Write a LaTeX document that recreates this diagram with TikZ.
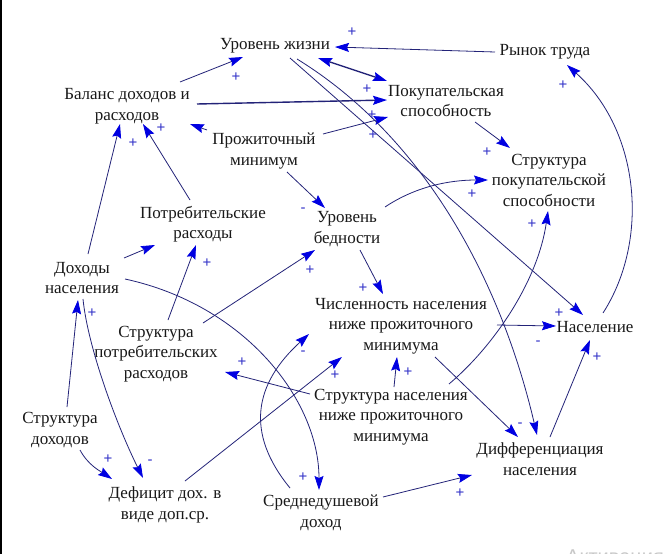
\documentclass[tikz,border=0pt]{standalone}
\usepackage{fontspec}
\setmainfont{Liberation Serif}
\newfontfamily\lblfont{Liberation Serif}
\newfontfamily\signfont{Liberation Sans}
\usetikzlibrary{arrows.meta,calc}
\definecolor{linec}{RGB}{35,35,120}
\definecolor{tipc}{RGB}{0,0,225}
\definecolor{signc}{RGB}{50,50,200}
\definecolor{wmc}{RGB}{200,200,200}
\begin{document}
\begin{tikzpicture}[x=1pt,y=-1pt,
  lbl/.style={align=center,inner sep=0pt,font=\lblfont\fontsize{17}{20.5}\selectfont,text={rgb,255:red,25;green,25;blue,25}},
  conn/.style={draw=linec,line width=0.8pt,-{Stealth[length=14pt,width=9pt,inset=2pt,color=tipc]}},
  connb/.style={draw=linec,line width=1.4pt,-{Stealth[length=14pt,width=9pt,inset=2pt,color=tipc]}},
  conn2/.style={draw=linec,line width=1.4pt,{Stealth[length=14pt,width=9pt,inset=2pt,color=tipc]}-{Stealth[length=14pt,width=9pt,inset=2pt,color=tipc]}},
  sg/.style={text=signc,font=\signfont\fontsize{15}{15}\selectfont,inner sep=0pt}]
\useasboundingbox (0,0) rectangle (665,554);
\fill[white] (0,0) rectangle (665,554);
\draw[black,line width=2pt] (1,0) -- (1,554);

% nodes
\node[lbl] (lev) at (275,46) {Уровень жизни};
\node[lbl] (rt) at (545,52) {Рынок труда};
\node[lbl] (bal) at (127,106) {Баланс доходов и\\расходов};
\node[lbl] (pok) at (446,101) {Покупательская\\способность};
\node[lbl] (pm) at (264,151) {Прожиточный\\минимум};
\node[lbl] (spk) at (549,180) {Структура\\покупательской\\способности};
\node[lbl] (potr) at (203,224) {Потребительские\\расходы};
\node[lbl] (ub) at (347,229) {Уровень\\бедности};
\node[lbl] (dn) at (82,278) {Доходы\\населения};
\node[lbl] (chn) at (401,326) {Численность населения\\ниже прожиточного\\минимума};
\node[lbl] (nas) at (595,327) {Население};
\node[lbl] (spr) at (156,354) {Структура\\потребительских\\расходов};
\node[lbl] (sn) at (391,417) {Структура населения\\ниже прожиточного\\минимума};
\node[lbl] (sd) at (60,430) {Структура\\доходов};
\node[lbl] (def) at (165,505) {Дефицит дох. в\\виде доп.ср.};
\node[lbl] (sdd) at (321,513) {Среднедушевой\\доход};
\node[lbl] (dif) at (540,459) {Дифференциация\\населения};

% straight connectors
\draw[conn] ($(bal)+(53,-24)$) -- ($(lev)+(-32,11)$);
\draw[conn] ($(rt)+(-50,0)$) -- ($(lev)+(60,1)$);
\draw[conn2] ($(lev)+(43,12)$) -- ($(pok)+(-59,-20)$);
\draw[connb] ($(bal)+(70,-2)$) -- ($(pok)+(-59,-1)$);
\draw[conn] ($(pm)+(59,-17)$) -- ($(pok)+(-58,16)$);
\draw[conn] ($(pm)+(-57,-21)$) -- ($(bal)+(63,18)$);
\draw[conn] ($(potr)+(-13,-24)$) -- ($(bal)+(16,18)$);
\draw[conn] ($(dn)+(6,-24)$) -- ($(bal)+(-7,18)$);
\draw[conn] ($(dn)+(42,-20)$) -- ($(potr)+(-48,21)$);
\draw[conn] ($(spr)+(12,-34)$) -- ($(potr)+(-7,21)$);
\draw[conn] ($(spr)+(47,-31)$) -- ($(ub)+(-32,21)$);
\draw[conn] ($(pm)+(23,21)$) -- ($(ub)+(-22,-21)$);
\draw[conn] ($(ub)+(13,21)$) -- ($(chn)+(-18,-32)$);
\draw[conn] ($(pok)+(29,21)$) -- ($(spk)+(-39,-32)$);
\draw[conn] ($(lev)+(15,12)$) -- ($(nas)+(-12,-12)$);
\draw[conn] ($(chn)+(96,-1)$) -- ($(nas)+(-39,-1)$);
\draw[conn] ($(dif)+(10,-22)$) -- ($(nas)+(-5,13)$);
\draw[conn] ($(chn)+(34,31)$) -- ($(dif)+(-22,-22)$);
\draw[conn] ($(sn)+(3,-30)$) -- ($(chn)+(-4,31)$);
\draw[conn] ($(sn)+(-81,-23)$) -- ($(spr)+(69,18)$);
\draw[conn] ($(def)+(20,-24)$) -- ($(chn)+(-59,31)$);
\draw[conn] ($(sd)+(7,-23)$) -- ($(dn)+(-4,22)$);
\draw[conn] ($(sdd)+(62,-16)$) -- ($(dif)+(-68,16)$);

% curved connectors
\draw[conn] ($(ub)+(38,-22)$) .. controls ($(ub)+(68,-42)$) and ($(spk)+(-101,0)$) .. ($(spk)+(-61,0)$);
\draw[conn] ($(lev)+(22,13)$) .. controls ($(lev)+(152,93)$) and ($(dif)+(-38,-174)$) .. ($(dif)+(-3,-24)$);
\draw[conn] ($(nas)+(8,-14)$) .. controls ($(nas)+(55,-87)$) and ($(rt)+(95,78)$) .. ($(rt)+(22,13)$);
\draw[conn] ($(sn)+(58,-33)$) .. controls ($(sn)+(103,-71)$) and ($(spk)+(-11,101)$) .. ($(spk)+(-1,31)$);
\draw[conn] ($(sdd)+(-31,-25)$) .. controls ($(sdd)+(-76,-80)$) and ($(chn)+(-147,58)$) .. ($(chn)+(-92,8)$);
\draw[conn] ($(dn)+(43,1)$) .. controls ($(dn)+(163,27)$) and ($(sdd)+(-2,-113)$) .. ($(sdd)+(-2,-23)$);
\draw[conn] ($(dn)+(1,21)$) .. controls ($(dn)+(6,71)$) and ($(def)+(-47,-77)$) .. ($(def)+(-22,-27)$);
\draw[conn] ($(sd)+(20,20)$) .. controls ($(sd)+(28,35)$) and ($(def)+(-65,-34)$) .. ($(def)+(-53,-26)$);

% polarity signs
\node[sg] (s1) at (236,77) {+};
\node[sg] (s2) at (352,32) {+};
\node[sg] (s3) at (367,89) {+};
\node[sg] (s4) at (372,115) {+};
\node[sg] (s5) at (373,135) {+};
\node[sg] (s6) at (487,152) {+};
\node[sg] (s7) at (563,85) {+};
\node[sg] (s8) at (363,288) {+};
\node[sg] (s9) at (532,224) {+};
\node[sg] (s10) at (559,313) {+};
\node[sg] (s11) at (538,343) {-};
\node[sg] (s12) at (597,357) {+};
\node[sg] (s13) at (207,263) {+};
\node[sg] (s14) at (310,270) {+};
\node[sg] (s15) at (92,313) {+};
\node[sg] (s16) at (303,353) {-};
\node[sg] (s17) at (242,362) {+};
\node[sg] (s18) at (303,210) {-};
\node[sg] (s19) at (161,128) {+};
\node[sg] (s20) at (133,143) {+};
\node[sg] (s21) at (472,194) {+};
\node[sg] (s22) at (108,459) {+};
\node[sg] (s23) at (150,462) {-};
\node[sg] (s24) at (303,477) {+};
\node[sg] (s25) at (335,375) {+};
\node[sg] (s26) at (408,372) {+};
\node[sg] (s27) at (520,425) {-};
\node[sg] (s28) at (460,493) {+};

% watermark (partly cut off, as in the reference)
\node[anchor=base west,inner sep=0pt,text=wmc,font=\signfont\fontsize{20}{20}\selectfont] (wm) at (566,563) {Активация};
\end{tikzpicture}
\end{document}
